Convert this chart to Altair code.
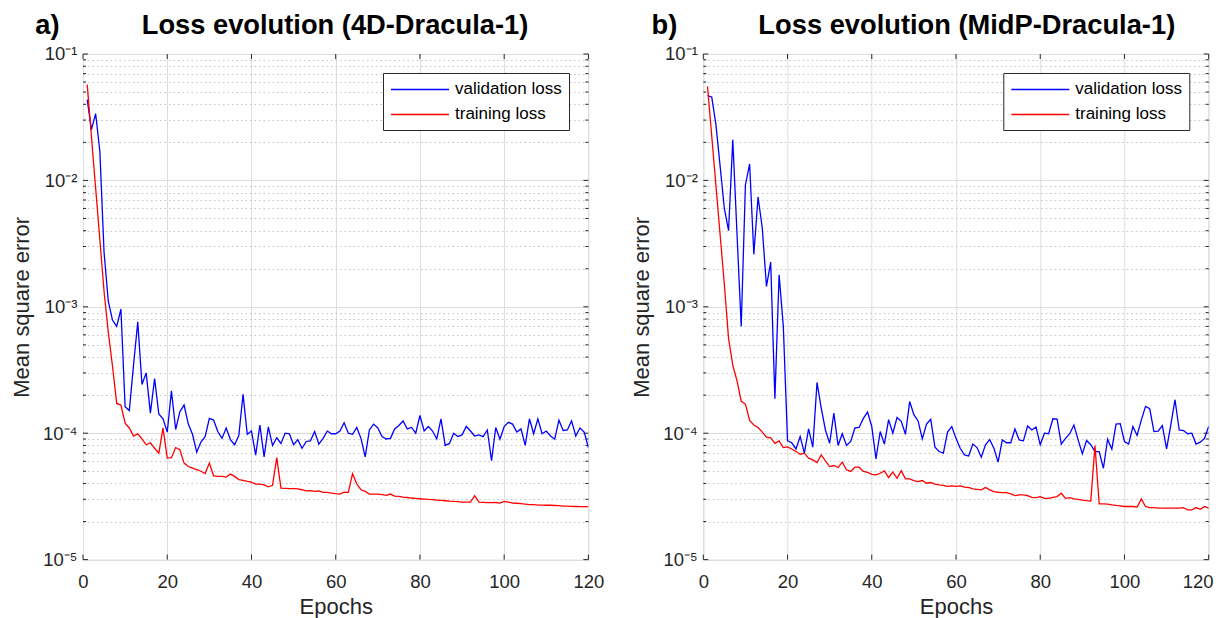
import altair as alt
import pandas as pd

# ---------------- data ----------------
epochs = list(range(1, 121))

val_a = [0.0436, 0.0252, 0.0337, 0.017, 0.0027, 0.00111, 7.85e-4, 7.0e-4, 9.6e-4, 1.62e-4,
         1.51e-4, 3.47e-4, 7.6e-4, 2.43e-4, 3.0e-4, 1.44e-4, 2.7e-4, 1.42e-4, 1.3e-4, 1.02e-4,
         2.16e-4, 1.07e-4, 1.48e-4, 1.67e-4, 1.18e-4, 9.8e-5, 7.07e-5, 8.5e-5, 9.4e-5, 1.31e-4,
         1.27e-4, 1.03e-4, 9.1e-5, 1.1e-4, 8.9e-5, 8.1e-5, 9.6e-5, 2.03e-4, 9.8e-5, 1.04e-4,
         6.7e-5, 1.16e-4, 6.5e-5, 1.12e-4, 8.0e-5, 9.2e-5, 8.3e-5, 1.0e-4, 9.9e-5, 8.1e-5,
         8.9e-5, 7.6e-5, 8.6e-5, 8.7e-5, 1.03e-4, 8.2e-5, 9.1e-5, 1.04e-4, 9.9e-5, 9.9e-5,
         1.04e-4, 1.21e-4, 1.0e-4, 9.8e-5, 1.11e-4, 9.1e-5, 6.5e-5, 1.06e-4, 1.18e-4, 1.1e-4,
         9.4e-5, 9.0e-5, 9.1e-5, 1.08e-4, 1.15e-4, 1.25e-4, 1.08e-4, 1.11e-4, 1.0e-4, 1.38e-4,
         1.04e-4, 1.13e-4, 1.04e-4, 9.0e-5, 1.30e-4, 8.0e-5, 8.3e-5, 1.0e-4, 9.4e-5, 9.7e-5,
         1.13e-4, 1.04e-4, 9.5e-5, 9.7e-5, 9.4e-5, 1.06e-4, 6.05e-5, 1.11e-4, 8.96e-5, 1.13e-4,
         1.22e-4, 1.18e-4, 1.02e-4, 1.08e-4, 8.0e-5, 1.30e-4, 9.9e-5, 1.30e-4, 9.9e-5, 1.04e-4,
         9.5e-5, 8.96e-5, 1.27e-4, 1.05e-4, 1.06e-4, 1.25e-4, 9.5e-5, 1.1e-4, 1.02e-4, 7.7e-5]

train_a = [0.0572, 0.0222, 0.0087, 0.0034, 0.00132, 6.3e-4, 3.4e-4, 1.72e-4, 1.67e-4, 1.2e-4,
           1.1e-4, 9.5e-5, 9.9e-5, 9.0e-5, 8.1e-5, 8.4e-5, 7.6e-5, 6.95e-5, 1.1e-4, 6.35e-5,
           6.4e-5, 7.7e-5, 7.4e-5, 5.8e-5, 5.45e-5, 5.3e-5, 5.15e-5, 5.0e-5, 4.8e-5, 5.8e-5,
           4.6e-5, 4.55e-5, 4.55e-5, 4.5e-5, 4.75e-5, 4.55e-5, 4.3e-5, 4.23e-5, 4.15e-5, 4.1e-5,
           3.96e-5, 3.96e-5, 3.9e-5, 3.77e-5, 3.87e-5, 6.4e-5, 3.68e-5, 3.66e-5, 3.64e-5, 3.64e-5,
           3.62e-5, 3.57e-5, 3.5e-5, 3.51e-5, 3.46e-5, 3.49e-5, 3.4e-5, 3.4e-5, 3.36e-5, 3.32e-5,
           3.3e-5, 3.42e-5, 3.4e-5, 4.78e-5, 3.96e-5, 3.57e-5, 3.46e-5, 3.3e-5, 3.3e-5, 3.3e-5,
           3.26e-5, 3.22e-5, 3.3e-5, 3.18e-5, 3.16e-5, 3.12e-5, 3.1e-5, 3.07e-5, 3.05e-5, 3.03e-5,
           3.01e-5, 2.99e-5, 2.98e-5, 2.96e-5, 2.94e-5, 2.92e-5, 2.9e-5, 2.89e-5, 2.87e-5, 2.85e-5,
           2.85e-5, 2.85e-5, 3.2e-5, 2.85e-5, 2.84e-5, 2.82e-5, 2.82e-5, 2.83e-5, 2.8e-5, 2.89e-5,
           2.85e-5, 2.8e-5, 2.79e-5, 2.77e-5, 2.75e-5, 2.72e-5, 2.72e-5, 2.7e-5, 2.7e-5, 2.69e-5,
           2.69e-5, 2.68e-5, 2.67e-5, 2.65e-5, 2.65e-5, 2.64e-5, 2.63e-5, 2.62e-5, 2.62e-5, 2.62e-5]

val_b = [0.0468, 0.0457, 0.0276, 0.0129, 0.0060, 0.0040, 0.021, 0.0038, 7.0e-4, 0.0092,
         0.0135, 0.0026, 0.0074, 0.0042, 0.00145, 0.00226, 1.87e-4, 0.00179, 7.0e-4, 8.7e-5,
         8.4e-5, 7.5e-5, 9.4e-5, 6.95e-5, 1.08e-4, 7.75e-5, 2.52e-4, 1.58e-4, 1.06e-4, 8.3e-5,
         1.44e-4, 8.0e-5, 9.9e-5, 8.0e-5, 8.6e-5, 1.1e-4, 1.11e-4, 1.31e-4, 1.47e-4, 1.13e-4,
         6.27e-5, 1.03e-4, 8.2e-5, 1.28e-4, 1.0e-4, 1.33e-4, 1.24e-4, 9.8e-5, 1.78e-4, 1.40e-4,
         1.25e-4, 9.0e-5, 1.18e-4, 1.29e-4, 7.75e-5, 7.16e-5, 6.95e-5, 1.02e-4, 1.13e-4, 9.1e-5,
         7.6e-5, 6.74e-5, 6.6e-5, 8.2e-5, 7.7e-5, 6.45e-5, 8.1e-5, 8.9e-5, 7.6e-5, 5.9e-5,
         8.85e-5, 8.4e-5, 8.4e-5, 1.08e-4, 8.85e-5, 8.7e-5, 1.14e-4, 1.06e-4, 1.12e-4, 8.1e-5,
         1.0e-4, 9.9e-5, 1.3e-4, 1.29e-4, 8.2e-5, 9.1e-5, 9.9e-5, 1.16e-4, 8.85e-5, 6.86e-5,
         8.75e-5, 8.1e-5, 7.16e-5, 7.16e-5, 5.28e-5, 8.96e-5, 7.47e-5, 1.18e-4, 1.19e-4, 8.6e-5,
         8.2e-5, 1.13e-4, 9.6e-5, 1.27e-4, 1.63e-4, 1.56e-4, 1.03e-4, 1.04e-4, 1.15e-4, 7.5e-5,
         1.16e-4, 1.84e-4, 1.06e-4, 1.05e-4, 9.9e-5, 1.0e-4, 8.2e-5, 8.5e-5, 9.1e-5, 1.13e-4]

train_b = [0.0555, 0.0225, 0.0091, 0.0037, 0.0015, 5.6e-4, 3.45e-4, 2.6e-4, 1.79e-4, 1.7e-4,
           1.26e-4, 1.16e-4, 1.11e-4, 1.02e-4, 9.3e-5, 9.2e-5, 8.3e-5, 8.7e-5, 7.7e-5, 7.8e-5,
           7.5e-5, 7.16e-5, 6.82e-5, 6.95e-5, 6.34e-5, 6.15e-5, 5.86e-5, 6.73e-5, 6.04e-5, 5.45e-5,
           5.55e-5, 5.35e-5, 5.9e-5, 5.13e-5, 4.98e-5, 5.38e-5, 5.38e-5, 4.98e-5, 4.9e-5, 4.73e-5,
           4.68e-5, 4.82e-5, 5.03e-5, 4.46e-5, 4.92e-5, 4.4e-5, 5.06e-5, 4.35e-5, 4.35e-5, 4.22e-5,
           4.14e-5, 4.22e-5, 4.02e-5, 4.07e-5, 3.95e-5, 3.9e-5, 3.86e-5, 3.79e-5, 3.83e-5, 3.79e-5,
           3.83e-5, 3.74e-5, 3.72e-5, 3.63e-5, 3.6e-5, 3.56e-5, 3.72e-5, 3.56e-5, 3.45e-5, 3.41e-5,
           3.39e-5, 3.39e-5, 3.31e-5, 3.21e-5, 3.25e-5, 3.25e-5, 3.21e-5, 3.11e-5, 3.09e-5, 3.15e-5,
           3.05e-5, 3.05e-5, 3.11e-5, 3.15e-5, 3.35e-5, 3.05e-5, 3.09e-5, 3.02e-5, 3.0e-5, 2.96e-5,
           2.93e-5, 2.91e-5, 7.98e-5, 2.76e-5, 2.76e-5, 2.75e-5, 2.71e-5, 2.68e-5, 2.66e-5, 2.63e-5,
           2.63e-5, 2.63e-5, 2.6e-5, 3.02e-5, 2.63e-5, 2.58e-5, 2.58e-5, 2.55e-5, 2.55e-5, 2.55e-5,
           2.55e-5, 2.55e-5, 2.55e-5, 2.58e-5, 2.47e-5, 2.47e-5, 2.58e-5, 2.5e-5, 2.63e-5, 2.55e-5]

series_names = ["validation loss", "training loss"]
series_colors = ["#0000ff", "#ff0000"]
panel_letters = ["a)", "b)"]
panel_titles = ["Loss evolution (4D-Dracula-1)", "Loss evolution (MidP-Dracula-1)"]

x_ticks = [0, 20, 40, 60, 80, 100, 120]
y_major = [1e-5, 1e-4, 1e-3, 1e-2, 1e-1]
y_major_labels = ["10⁻⁵", "10⁻⁴", "10⁻³", "10⁻²", "10⁻¹"]
y_minor = [m * 10.0 ** k for k in range(-5, -1) for m in range(2, 10)]

# ---------------- style ----------------
W, H = 505.4, 505.6
FONT = "Liberation Sans, Arial, Helvetica, sans-serif"
AX = "#262626"
letter_dx = [-47.7, -51.8]
title_dx = [-0.7, 10.8]
last_label_shift = [0, -11]

label_expr = " : ".join(
    f"abs(datum.value / {v} - 1) < 1e-6 ? '{l}'" for v, l in zip(y_major, y_major_labels)
) + " : ''"
minor_test = "abs(log(datum.value) / LN10 - round(log(datum.value) / LN10)) > 0.001"

xscale = alt.Scale(domain=[0, 120], nice=False, zero=False)
yscale = alt.Scale(type="log", domain=[1e-5, 1e-1], nice=False)


def make_x_axis(shift):
    return alt.Axis(
        values=x_ticks, grid=True, gridColor="#dedede", gridWidth=1,
        ticks=False, tickSize=0, domain=False,
        labelFont=FONT, labelFontSize=18.5, labelColor=AX, labelPadding=13,
        labelOffset={"condition": {"test": "datum.value == 120", "value": shift}, "value": 0},
        labelOverlap=False, labelFlush=False,
        title="Epochs", titleFont=FONT, titleFontSize=22, titleFontWeight="normal",
        titleColor=AX, titlePadding=5,
    )


y_axis = alt.Axis(
    values=sorted(y_major + y_minor), labelExpr=label_expr,
    grid=True, gridWidth=1,
    gridColor={"condition": {"test": minor_test, "value": "#c4c4c4"}, "value": "#dedede"},
    gridDash={"condition": {"test": minor_test, "value": [1.5, 3]}, "value": []},
    ticks=False, tickSize=0, domain=False,
    labelFont=FONT, labelFontSize=18.5, labelColor=AX, labelPadding=6,
    labelOverlap=False, labelFlush=False,
    title="Mean square error", titleFont=FONT, titleFontSize=22, titleFontWeight="normal",
    titleColor=AX, titlePadding=9,
)


def panel(i, val, train):
    x_axis = make_x_axis(last_label_shift[i])
    df = pd.DataFrame({
        "epoch": epochs * 2,
        "loss": val + train,
        "series": [series_names[0]] * len(val) + [series_names[1]] * len(train),
    })
    color = alt.Color(
        "series:N",
        scale=alt.Scale(domain=series_names, range=series_colors),
        legend=alt.Legend(
            title=None, orient="top-right", offset=19,
            strokeColor=AX, fillColor="white", padding=7, cornerRadius=0,
            labelFont=FONT, labelFontSize=17, labelColor="#000000", labelOffset=46,
            symbolType="M-1,0H5.82", symbolSize=289, symbolStrokeWidth=1.3,
            rowPadding=7,
        ),
    )
    base = alt.Chart(df).encode(
        x=alt.X("epoch:Q", scale=xscale, axis=x_axis),
        y=alt.Y("loss:Q", scale=yscale, axis=y_axis),
        color=color,
    )
    lines = [
        base.transform_filter(alt.datum.series == s).mark_line(strokeWidth=1.3, clip=True)
        for s in series_names
    ]

    def yt(vals, x0, x1):
        return alt.Chart(pd.DataFrame({"v": vals})).mark_rule(color=AX, strokeWidth=1).encode(
            y=alt.Y("v:Q", scale=yscale, axis=y_axis), x=alt.value(x0), x2=alt.value(x1))

    def xt(vals, y0, y1):
        return alt.Chart(pd.DataFrame({"v": vals})).mark_rule(color=AX, strokeWidth=1).encode(
            x=alt.X("v:Q", scale=xscale, axis=x_axis), y=alt.value(y0), y2=alt.value(y1))

    ticks = [
        yt(y_major, 0, 5), yt(y_major, W - 5, W),
        yt(y_minor, 0, 3), yt(y_minor, W - 3, W),
        xt(x_ticks, H - 5, H), xt(x_ticks, 0, 5),
    ]
    letter = alt.Chart(pd.DataFrame({"t": [panel_letters[i]]})).mark_text(
        align="left", baseline="alphabetic", font=FONT, fontSize=27.3, fontWeight="bold",
        color="#000000",
    ).encode(text="t:N", x=alt.value(letter_dx[i]), y=alt.value(-19.7))
    title = alt.Chart(pd.DataFrame({"t": [panel_titles[i]]})).mark_text(
        align="center", baseline="alphabetic", font=FONT, fontSize=27.3, fontWeight="bold",
        color="#000000",
    ).encode(text="t:N", x=alt.value(W / 2 + title_dx[i]), y=alt.value(-19.7))

    return alt.layer(*ticks, *lines, letter, title).properties(width=W, height=H)


chart = alt.hconcat(
    panel(0, val_a, train_a), panel(1, val_b, train_b), spacing=114.3, bounds="flush"
).resolve_scale(
    x="independent", y="independent", color="independent"
).resolve_legend(
    color="independent"
).configure_view(
    stroke=AX, strokeWidth=1
).configure(
    font=FONT
).properties(
    padding={"left": 1, "top": 3, "right": 0, "bottom": 0},
    background="white",
)

chart.save("out.html", embed_options={"renderer": "svg", "actions": False})
